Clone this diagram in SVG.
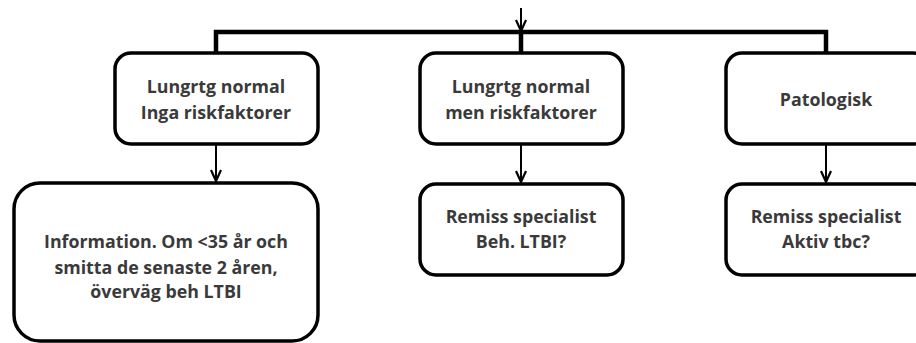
<svg xmlns="http://www.w3.org/2000/svg" width="916" height="343" viewBox="0 0 916 343">
<defs>
<marker id="ah" markerWidth="14" markerHeight="12" refX="12" refY="6" orient="auto" markerUnits="userSpaceOnUse">
<path d="M1,1 L12,6 L1,11" fill="none" stroke="#000" stroke-width="2.2"/>
</marker>
<style>
.box{fill:#fff;stroke:#000;stroke-width:3.5}
.t{font-family:"Open Sans","Liberation Sans",sans-serif;font-weight:bold;font-size:17.8px;fill:#3a3a3a;text-anchor:middle}
.thin{stroke:#000;stroke-width:2;fill:none}
.thick{stroke:#000;stroke-width:4.5;fill:none}
</style>
</defs>
<rect width="916" height="343" fill="#fff"/>
<g id="connectors">
<path class="thick" d="M216,53 V32 H826 V53"/>
<path class="thick" d="M521,32 V53"/>
<path class="thin" d="M521,8 V31" marker-end="url(#ah)"/>
<path class="thin" d="M216,144 V181" marker-end="url(#ah)"/>
<path class="thin" d="M521,144 V182" marker-end="url(#ah)"/>
<path class="thin" d="M826,144 V182" marker-end="url(#ah)"/>
</g>
<g id="n1">
<rect class="box" x="115" y="53" width="203" height="91" rx="16"/>
<text class="t" x="216" y="93">Lungrtg normal</text>
<text class="t" x="216" y="119">Inga riskfaktorer</text>
</g>
<g id="n2">
<rect class="box" x="420" y="53" width="203" height="91" rx="16"/>
<text class="t" x="521" y="93">Lungrtg normal</text>
<text class="t" x="521" y="119">men riskfaktorer</text>
</g>
<g id="n3">
<rect class="box" x="726" y="53" width="203" height="91" rx="16"/>
<text class="t" x="826" y="106">Patologisk</text>
</g>
<g id="n4">
<rect class="box" x="14" y="183" width="304" height="158" rx="26"/>
<text class="t" x="166" y="248">Information. Om &lt;35 år och</text>
<text class="t" x="166" y="274">smitta de senaste 2 åren,</text>
<text class="t" x="166" y="298">överväg beh LTBI</text>
</g>
<g id="n5">
<rect class="box" x="420" y="184" width="203" height="91" rx="16"/>
<text class="t" x="521" y="223">Remiss specialist</text>
<text class="t" x="521" y="248">Beh. LTBI?</text>
</g>
<g id="n6">
<rect class="box" x="726" y="184" width="203" height="91" rx="16"/>
<text class="t" x="826" y="223">Remiss specialist</text>
<text class="t" x="826" y="248">Aktiv tbc?</text>
</g>
</svg>
